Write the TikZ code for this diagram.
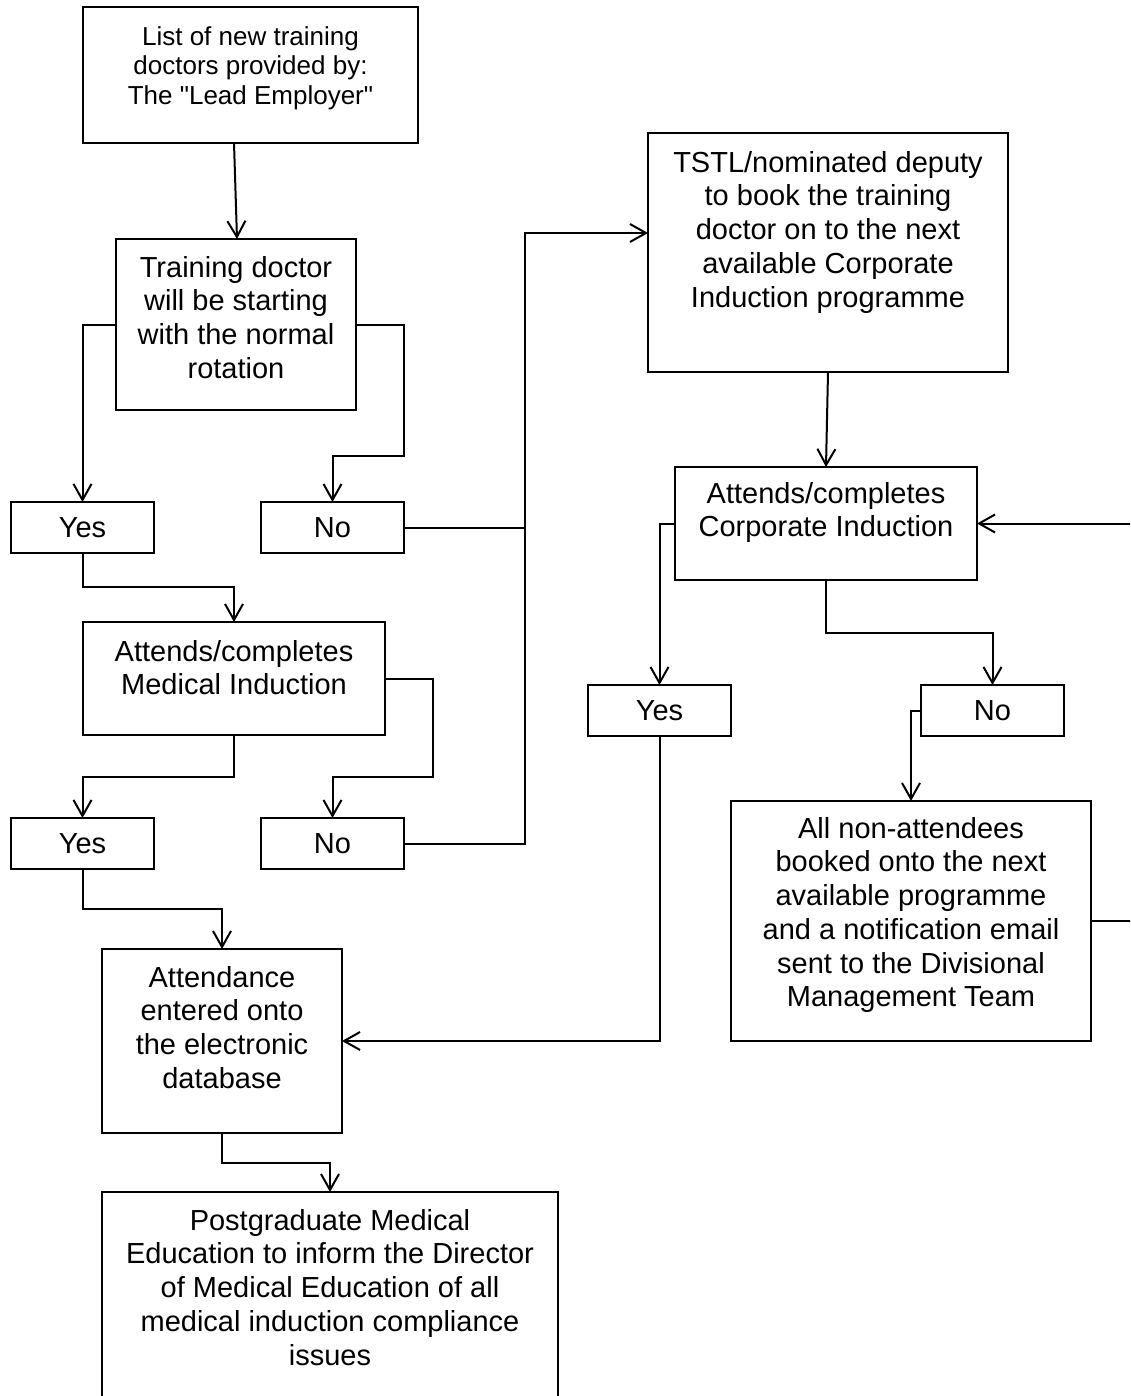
\documentclass[tikz,border=0pt]{standalone}
\usepackage{fontspec}
\setmainfont{Liberation Sans}[Ligatures=TeXOff]
\usetikzlibrary{arrows.meta}
\begin{document}
\begin{tikzpicture}[x=1pt,y=-1pt,
  box/.style={draw, line width=2pt, inner sep=0pt, outer sep=0pt},
  txt/.style={anchor=north, inner sep=0pt, align=center, font=\fontsize{29}{33.7}\selectfont},
  small/.style={font=\fontsize{26}{29.5}\selectfont},
  yn/.style={box, minimum width=143pt, minimum height=51pt, font=\fontsize{29}{33.7}\selectfont},
  line/.style={line width=2pt},
  arr/.style={line width=2pt, -{Straight Barb[length=16pt,width=18pt]}}]
\useasboundingbox (0,0) rectangle (1130,1396);
\clip (0,0) rectangle (1130,1396);

% boxes
\node[box, minimum width=335pt, minimum height=136pt] (b1) at (250.5,75) {};
\node[box, minimum width=240pt, minimum height=171pt] (b2) at (236,324.5) {};
\node[yn] (y1) at (82.5,527.5) {Yes};
\node[yn] (n1) at (332.5,527.5) {No};
\node[box, minimum width=302pt, minimum height=113pt] (b3) at (234,678.5) {};
\node[yn] (y2) at (82.5,843.5) {Yes};
\node[yn] (n2) at (332.5,843.5) {No};
\node[box, minimum width=240pt, minimum height=184pt] (b4) at (222,1041) {};
\node[box, minimum width=456pt, minimum height=228pt] (b5) at (330,1306) {};
\node[box, minimum width=360pt, minimum height=239pt] (b6) at (828,252.5) {};
\node[box, minimum width=302pt, minimum height=113pt] (b7) at (826,523.5) {};
\node[yn] (y3) at (659.5,710.5) {Yes};
\node[yn] (n3) at (992.5,710.5) {No};
\node[box, minimum width=360pt, minimum height=240pt] (b8) at (911,921) {};

% texts
\node[txt, small] (t1) at (250.5,26) {List of new training\\doctors provided by:\\The "Lead Employer"};
\node[txt] (t2) at (236,256) {Training doctor\\will be starting\\with the normal\\rotation};
\node[txt] (t3) at (234,640) {Attends/completes\\Medical Induction};
\node[txt] (t4) at (222,966) {Attendance\\entered onto\\the electronic\\database};
\node[txt] (t5) at (330,1209) {Postgraduate Medical\\Education to inform the Director\\of Medical Education of all\\medical induction compliance\\issues};
\node[txt] (t6) at (828,151) {TSTL/nominated deputy\\to book the training\\doctor on to the next\\available Corporate\\Induction programme};
\node[txt] (t7) at (826,482) {Attends/completes\\Corporate Induction};
\node[txt] (t8) at (911,817) {All non-attendees\\booked onto the next\\available programme\\and a notification email\\sent to the Divisional\\Management Team};

% connectors
\draw[arr] ([xshift=-16.5pt]b1.south) -- ([xshift=1pt]b2.north);
\draw[arr] (b2.west) -| (y1.north);
\draw[arr] (b2.east) -| ([yshift=46pt]n1.north east) -| (n1.north);
\draw[arr] (n1.east) -| ([xshift=-123pt,yshift=19.5pt]b6.west) -- ([yshift=19.5pt]b6.west);
\draw[line] (n2.east) -| ([xshift=-123pt]n1.east -| b6.west);
\draw[arr] (y1.south) |- ([yshift=35pt]b3.north) -- (b3.north);
\draw[arr] (b3.east) -| ([xshift=29pt,yshift=41pt]n2.north east) -| (n2.north);
\draw[arr] (b3.south) |- ([yshift=41pt]y2.north) -- (y2.north);
\draw[arr] (y2.south) |- ([yshift=40pt]b4.north) -- (b4.north);
\draw[arr] (b4.south) |- ([yshift=29pt]b5.north) -- (b5.north);
\draw[arr] (b6.south) -- (b7.north);
\draw[arr] (b7.west) -| (y3.north);
\draw[arr] (b7.south) |- ([yshift=52pt]n3.north) -- (n3.north);
\draw[arr] (n3.west) -| (b8.north);
\draw[arr] (b8.east) -- ++(45,0) |- (b7.east);
\draw[arr] (y3.south) |- (b4.east);
\end{tikzpicture}
\end{document}
